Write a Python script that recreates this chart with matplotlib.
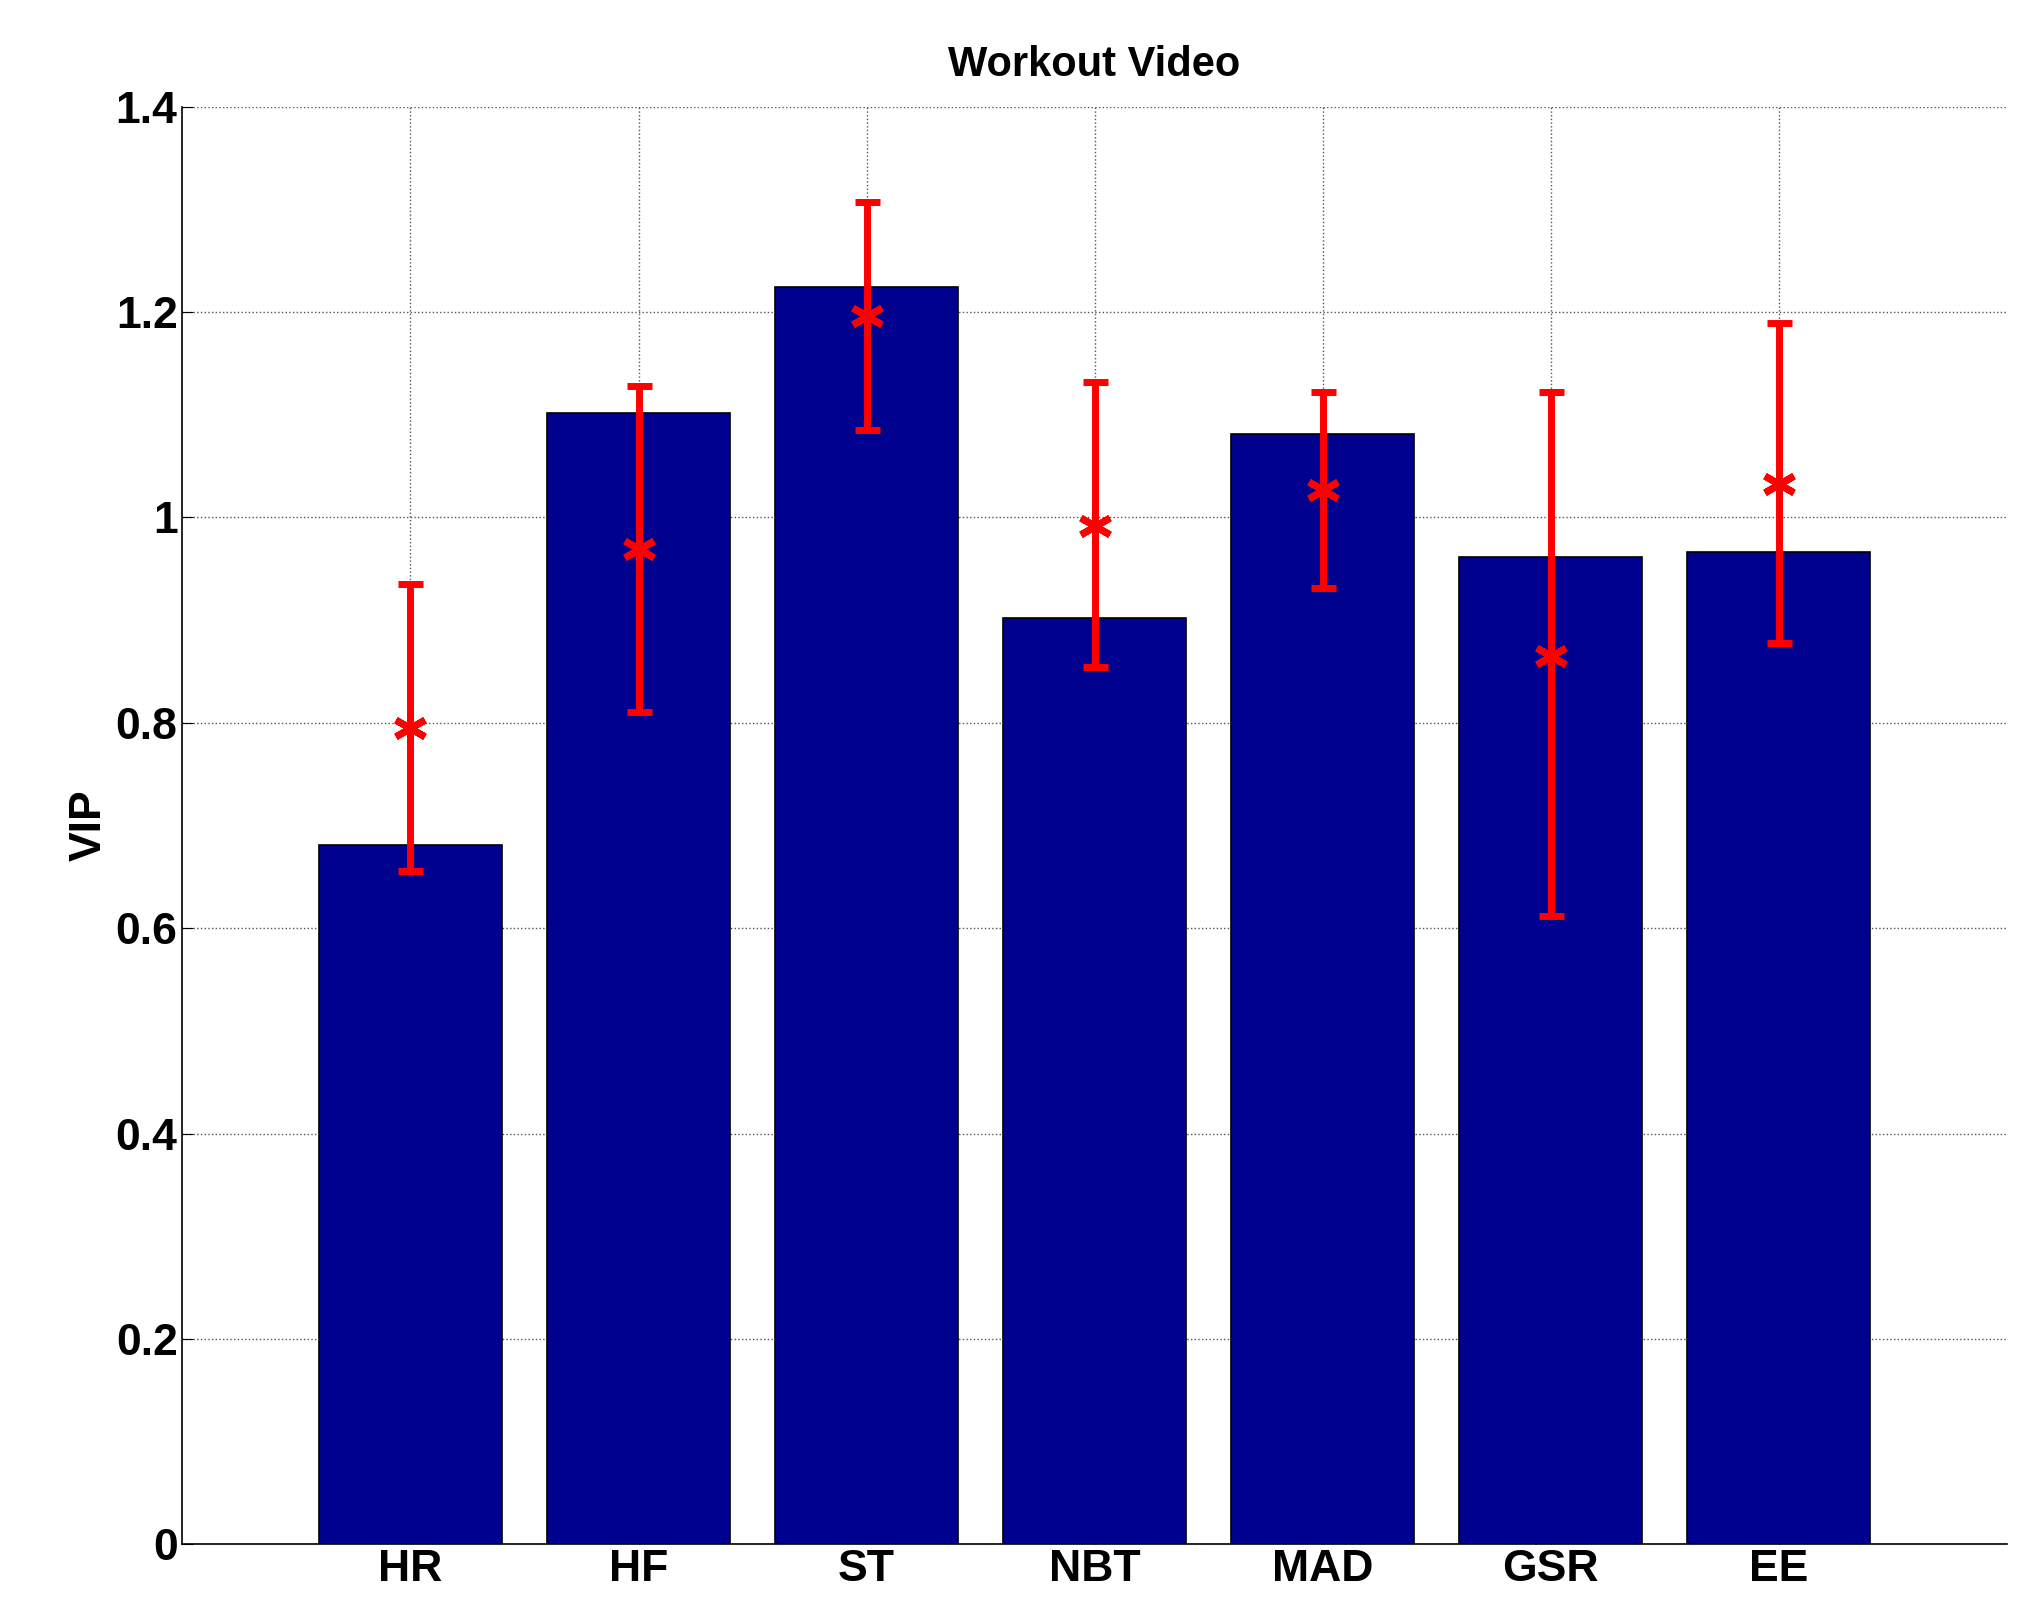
import matplotlib
matplotlib.use('Agg')
import matplotlib.pyplot as plt
import numpy as np

CATS     = ['HR', 'HF', 'ST', 'NBT', 'MAD', 'GSR', 'EE']
BAR_VALS = [0.681, 1.102, 1.224, 0.902, 1.081, 0.961, 0.966]
MEANS    = [0.795, 0.969, 1.196, 0.992, 1.027, 0.865, 1.033]
ERR_HI   = [0.935, 1.128, 1.307, 1.132, 1.122, 1.122, 1.189]
ERR_LO   = [0.656, 0.811, 1.085, 0.854, 0.931, 0.612, 0.878]

plt.rcParams['font.family'] = ['Liberation Sans', 'DejaVu Sans']
plt.rcParams['font.weight'] = 'bold'

fig = plt.figure(figsize=(20.27, 16.17), dpi=100)
ax = fig.add_axes([0.090, 0.045, 0.900, 0.889])

x = np.arange(1, len(CATS) + 1)
ax.bar(x, BAR_VALS, width=0.8, color='#00008F', edgecolor='black', linewidth=1.2, zorder=2)
means = np.array(MEANS)
yerr = [means - np.array(ERR_LO), np.array(ERR_HI) - means]
ax.errorbar(x, means, yerr=yerr, fmt='none', ecolor='red', elinewidth=5,
            capsize=9, capthick=5, zorder=3)
ax.plot(x, means, linestyle='none', marker=(6, 2, 0), markersize=24,
        markeredgewidth=5, color='red', zorder=4)

ax.set_xlim(0, 8)
ax.set_ylim(0, 1.4)
ax.set_xticks(x)
ax.set_xticklabels(CATS)
ax.set_yticks(np.arange(0, 1.41, 0.2))
ax.set_yticklabels(['0', '0.2', '0.4', '0.6', '0.8', '1', '1.2', '1.4'])
ax.tick_params(labelsize=32, direction='in', length=8, top=False, right=False)
ax.grid(True, linestyle=':', color='#555555', linewidth=1, zorder=0)
ax.set_axisbelow(True)
for s in ['top', 'right']:
    ax.spines[s].set_visible(False)
ax.spines['left'].set_linewidth(1.2)
ax.spines['bottom'].set_linewidth(1.2)
ax.set_ylabel('VIP', fontsize=32, fontweight='bold')
ax.set_title('Workout Video', fontsize=30, fontweight='bold', pad=22)

fig.savefig('out.png', dpi=100)
